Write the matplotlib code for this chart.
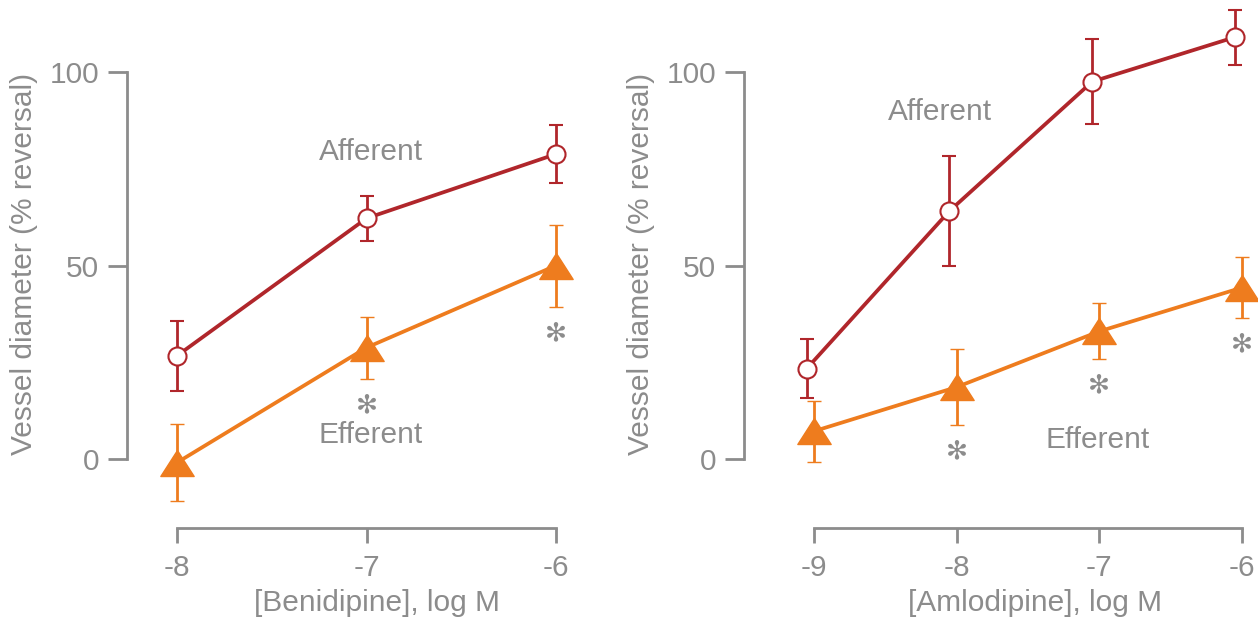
import numpy as np
import matplotlib
matplotlib.use("Agg")
import matplotlib.pyplot as plt
from matplotlib.path import Path

plt.rcParams['font.family'] = ['Liberation Sans', 'DejaVu Sans']

# --- datos: benidipina ---
beni_dosis = [-8, -7, -6]
beni_aferente = [26.7, 62.2, 78.8]
beni_aferente_err = [9.0, 5.8, 7.6]
beni_eferente = [-0.9, 28.8, 50.0]
beni_eferente_err = [9.9, 8.0, 10.6]
beni_signif = [False, True, True]

# --- datos: amlodipina ---
amlo_dosis = [-9, -8, -7, -6]
amlo_aferente = [23.4, 64.1, 97.5, 109.0]
amlo_aferente_err = [7.7, 14.2, 10.9, 7.1]
amlo_eferente = [7.2, 18.6, 33.0, 44.3]
amlo_eferente_err = [7.9, 9.8, 7.2, 7.9]
amlo_signif = [False, True, True, True]

y_ticks = [0, 50, 100]

ROJO = '#B0262B'
NARANJA = '#EE7C1E'
GRIS = '#8C8C8C'
FS = 21.5

# triangulo algo achatado
triangulo = Path([(0, 0.78), (-1, -0.78), (1, -0.78), (0, 0.78)],
                 [Path.MOVETO, Path.LINETO, Path.LINETO, Path.CLOSEPOLY])


def panel(ax, dosis, af, af_err, ef, ef_err, signif, xlabel, xlim,
          pos_af, pos_ef, desplaz_af=0.0):
    dosis = np.array(dosis, dtype=float)
    x_af = dosis + desplaz_af

    ax.errorbar(dosis, ef, yerr=ef_err, color=NARANJA, lw=2.7,
                elinewidth=2.0, capsize=4.8, capthick=2.0,
                marker=triangulo, markersize=24, markerfacecolor=NARANJA,
                markeredgecolor=NARANJA, markeredgewidth=1.0,
                clip_on=False, zorder=3)
    ax.errorbar(x_af, af, yerr=af_err, color=ROJO, lw=2.7,
                elinewidth=2.0, capsize=4.8, capthick=2.0,
                marker='o', markersize=13, markerfacecolor='white',
                markeredgecolor=ROJO, markeredgewidth=1.5,
                clip_on=False, zorder=4)

    # asteriscos bajo la barra inferior
    for x, m, e, s in zip(dosis, ef, ef_err, signif):
        if s:
            ax.annotate('\u273b', xy=(x, m - e), xytext=(0, -19),
                        textcoords='offset points', ha='center', va='center',
                        fontsize=19, color=GRIS, family='DejaVu Sans')

    ax.text(*pos_af, 'Afferent', color=GRIS, fontsize=FS,
            ha='center', va='center')
    ax.text(*pos_ef, 'Efferent', color=GRIS, fontsize=FS,
            ha='center', va='center')

    ax.set_xlim(*xlim)
    ax.set_ylim(-17.8, 118.6)
    ax.set_xticks(dosis)
    ax.set_xticklabels([f'{int(d)}' for d in dosis])
    ax.set_yticks(y_ticks)

    for lado in ['top', 'right']:
        ax.spines[lado].set_visible(False)
    for lado in ['left', 'bottom']:
        ax.spines[lado].set_color(GRIS)
        ax.spines[lado].set_linewidth(2.0)
    ax.spines['left'].set_bounds(0, 100)
    ax.spines['bottom'].set_bounds(dosis[0], dosis[-1])

    ax.tick_params(axis='y', length=14, width=2.0, color=GRIS,
                   labelcolor=GRIS, labelsize=FS, pad=6)
    ax.tick_params(axis='x', length=11, width=2.0, color=GRIS,
                   labelcolor=GRIS, labelsize=FS, pad=8)

    ax.set_ylabel('Vessel diameter (% reversal)', color=GRIS, fontsize=FS,
                  labelpad=8)
    ax.set_xlabel(xlabel, color=GRIS, fontsize=FS, labelpad=2)
    ax.patch.set_alpha(0)


W, H = 1258, 618
fig = plt.figure(figsize=(W / 100, H / 100), dpi=100)

# ejes en pixeles: izquierda del eje y, ancho, borde inferior
ax1 = fig.add_axes([127 / W, 90 / H, 473 / W, 528 / H])
ax2 = fig.add_axes([744 / W, 90 / H, 514 / W, 528 / H])

panel(ax1, beni_dosis, beni_aferente, beni_aferente_err,
      beni_eferente, beni_eferente_err, beni_signif,
      '[Benidipine], log M', (-8.264, -8.264 + 473 / 189.5),
      (-6.976, 79.3), (-6.98, 6.2))
panel(ax2, amlo_dosis, amlo_aferente, amlo_aferente_err,
      amlo_eferente, amlo_eferente_err, amlo_signif,
      '[Amlodipine], log M', (-9.49, -9.49 + 514 / 142.7),
      (-8.116, 89.7), (-7.01, 4.9), desplaz_af=-0.05)

ax1.xaxis.set_label_coords(0.529, -0.115)
ax2.xaxis.set_label_coords(0.566, -0.115)

fig.savefig('out.png', dpi=100)
